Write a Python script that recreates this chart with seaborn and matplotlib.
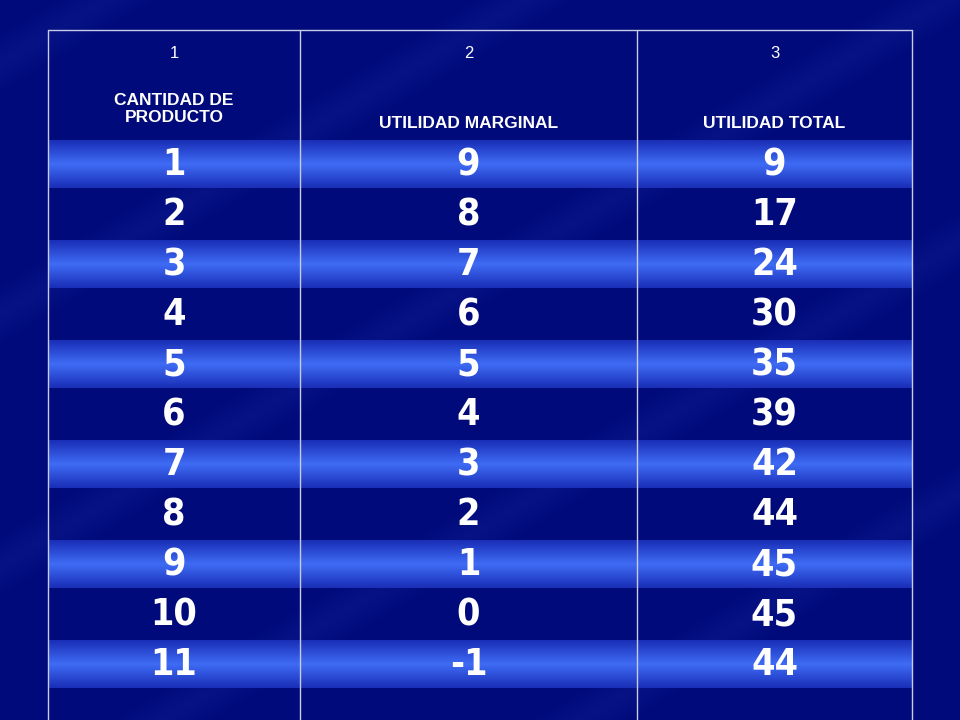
import numpy as np
import matplotlib
matplotlib.use("Agg")
import matplotlib.pyplot as plt
import seaborn as sns

col_numbers = ["1", "2", "3"]
col_titles = ["CANTIDAD DE\nPRODUCTO", "UTILIDAD MARGINAL", "UTILIDAD TOTAL"]
cantidad = [1, 2, 3, 4, 5, 6, 7, 8, 9, 10, 11]
marginal = [9, 8, 7, 6, 5, 4, 3, 2, 1, 0, -1]
total = [9, 17, 24, 30, 35, 39, 42, 44, 45, 45, 44]

sns.set_theme(style="white")
fig = plt.figure(figsize=(9.6, 7.2), dpi=100)
ax = fig.add_axes([0, 0, 1, 1])
ax.set_xlim(0, 960); ax.set_ylim(720, 0); ax.axis("off")

yy, xx = np.mgrid[0:720, 0:960]
bg = 0.15 * np.clip(np.sin((xx * 0.6 + yy) / 40.0), 0, 1) ** 6
cmap_bg = sns.blend_palette(["#000a7a", "#2a3cc0"], as_cmap=True)
ax.imshow(bg, cmap=cmap_bg, vmin=0, vmax=1, extent=[0, 960, 720, 0], aspect="auto", zorder=0)

cols = [48, 300, 637, 912]
top, head_bot, row_h = 30, 140, 50
band_cmap = sns.blend_palette(["#1a2fb8", "#3f6cf5", "#1a2fb8"], as_cmap=True)
grad = np.linspace(0, 1, 50).reshape(-1, 1)
for i in range(len(cantidad)):
    y0 = head_bot + i * row_h
    if i % 2 == 0:
        ax.imshow(grad, cmap=band_cmap, extent=[cols[0], cols[3], y0 + row_h - 2, y0], aspect="auto", zorder=1)

for x in cols:
    ax.plot([x, x], [top, 720], color="#c8cbe8", lw=1, zorder=2)
ax.plot([cols[0], cols[3]], [top, top], color="#c8cbe8", lw=1, zorder=2)

centers = [(cols[j] + cols[j + 1]) / 2 for j in range(3)]
for j in range(3):
    ax.text(centers[j], 53, col_numbers[j], color="white", ha="center", va="center", fontsize=12, family="Liberation Sans", zorder=3)
    ty = 109 if j == 0 else 123
    ax.text(centers[j], ty, col_titles[j], color="white", ha="center", va="center", fontsize=12.5, fontweight="bold", family="Liberation Sans", linespacing=1.15, zorder=3)

for i, vals in enumerate(zip(cantidad, marginal, total)):
    yc = head_bot + i * row_h + 25
    for j, v in enumerate(vals):
        ax.text(centers[j], yc, str(v), color="white", ha="center", va="center", fontsize=27, fontweight="bold", family="DejaVu Sans", fontstretch="condensed", zorder=3)

fig.savefig("out.png", dpi=100)
